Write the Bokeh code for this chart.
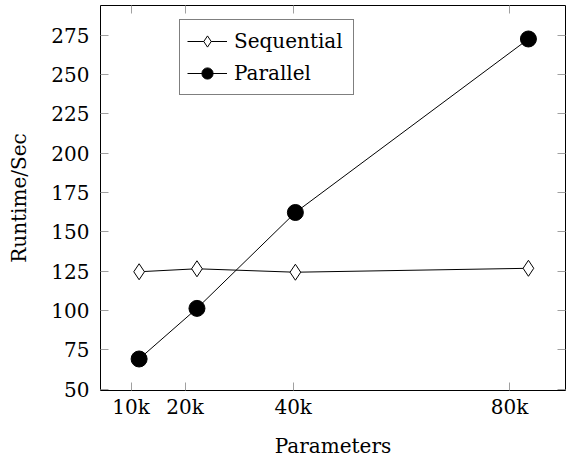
from bokeh.plotting import figure
from bokeh.models import FixedTicker, LinearAxis, Range1d, Legend, LegendItem, CustomJSTickFormatter
from bokeh.embed import file_html
from bokeh.resources import INLINE

# ---- data ----
params = [11500, 22200, 40400, 83500]
sequential = [124.6, 126.5, 124.3, 126.8]
parallel = [69.1, 101.3, 162.3, 272.7]
x_ticks = [10000, 20000, 40000, 80000]
x_tick_labels = ["10k", "20k", "40k", "80k"]
y_ticks = [50, 75, 100, 125, 150, 175, 200, 225, 250, 275]

FONT = "DejaVu Serif"
TICK_COLOR = "#a0a0a0"

p = figure(width=568, height=460, output_backend="svg", toolbar_location=None,
           x_range=Range1d(4359, 90357), y_range=Range1d(49.05, 294.0),
           min_border_left=100, min_border_right=3, min_border_top=5, min_border_bottom=68)
p.background_fill_color = "white"
p.border_fill_color = "white"
p.outline_line_color = "black"
p.outline_line_width = 1
p.xgrid.visible = False
p.ygrid.visible = False

# main axes
xa = p.xaxis[0]
xa.ticker = FixedTicker(ticks=x_ticks)
xa.major_label_overrides = {t: l for t, l in zip(x_ticks, x_tick_labels)}
ya = p.yaxis[0]
ya.ticker = FixedTicker(ticks=y_ticks)
for ax in (xa, ya):
    ax.axis_line_color = None
    ax.major_tick_in = 8
    ax.major_tick_out = 0
    ax.major_tick_line_color = TICK_COLOR
    ax.minor_tick_line_color = None
    ax.major_label_text_font = FONT
    ax.major_label_text_font_size = "20px"
    ax.major_label_text_color = "black"
    ax.axis_label_text_font = FONT
    ax.axis_label_text_font_size = "20px"
    ax.axis_label_text_font_style = "normal"
    ax.axis_label_text_color = "black"
xa.axis_label = "Parameters"
ya.axis_label = "Runtime/Sec"
xa.major_label_standoff = 4
xa.axis_label_standoff = 12
ya.major_label_standoff = 11
ya.axis_label_standoff = 17

# mirrored ticks (top and right)
blank = CustomJSTickFormatter(code="return ''")
for loc, ticks in (("above", x_ticks), ("right", y_ticks)):
    ax = LinearAxis(ticker=FixedTicker(ticks=ticks), formatter=blank)
    ax.axis_line_color = None
    ax.major_tick_in = 8
    ax.major_tick_out = 0
    ax.major_tick_line_color = TICK_COLOR
    ax.minor_tick_line_color = None
    ax.major_label_standoff = 0
    ax.major_label_text_font_size = "1px"
    p.add_layout(ax, loc)

# series
l1 = p.line(params, sequential, line_color="black", line_width=1)
s1 = p.scatter(params, sequential, marker="diamond", size=16, fill_color="white",
               line_color="black", line_width=1)
l2 = p.line(params, parallel, line_color="black", line_width=1)
s2 = p.scatter(params, parallel, marker="circle", size=16, fill_color="black",
               line_color="black", line_width=1)

legend = Legend(items=[LegendItem(label="Sequential", renderers=[l1, s1]),
                       LegendItem(label="Parallel", renderers=[l2, s2])],
                location=(79, 295))
legend.label_text_font = FONT
legend.label_text_font_size = "20px"
legend.label_text_color = "black"
legend.glyph_width = 40
legend.glyph_height = 28
legend.label_height = 28
legend.label_width = 112
legend.label_standoff = 7
legend.padding = 7
legend.spacing = 4
legend.margin = 0
legend.border_line_color = "black"
legend.border_line_width = 1
legend.background_fill_color = "white"
legend.background_fill_alpha = 1
p.add_layout(legend, "center")

open("out.html", "w").write(file_html(p, INLINE))
